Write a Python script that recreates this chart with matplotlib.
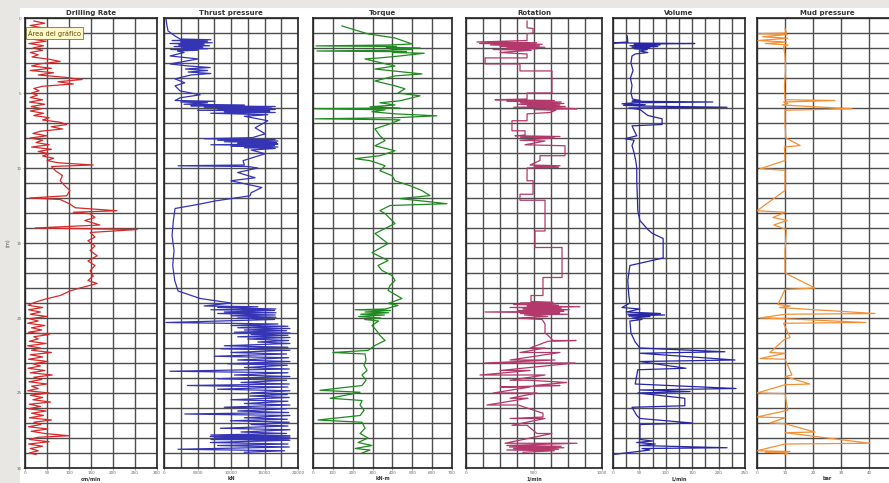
import matplotlib
matplotlib.use('Agg')
import matplotlib.pyplot as plt
from matplotlib.patches import Rectangle
from matplotlib.ticker import MultipleLocator, NullFormatter, FixedLocator

# depth in m, one pair per reading: (depth, value)
drilling_rate = [
    (0.2, 20), (0.35, 45), (0.5, 12), (0.65, 38), (0.8, 15), (0.95, 50), (1.1, 10), (1.25, 55),
    (1.4, 14), (1.55, 48), (1.7, 9), (1.85, 42), (2.0, 18), (2.15, 40), (2.3, 12), (2.45, 30),
    (2.6, 16), (2.75, 55), (2.9, 80), (3.05, 35), (3.2, 15), (3.35, 60), (3.5, 12), (3.65, 65),
    (3.8, 30), (3.95, 90), (4.1, 130), (4.25, 75), (4.4, 110), (4.55, 40), (4.7, 20), (4.85, 32),
    (5.0, 15), (5.15, 28), (5.3, 12), (5.45, 40), (5.6, 10), (5.75, 45), (5.9, 14), (6.05, 38),
    (6.2, 12), (6.35, 42), (6.5, 20), (6.65, 55), (6.8, 40), (6.95, 80), (7.1, 95), (7.25, 60),
    (7.4, 85), (7.55, 35), (7.7, 18), (7.85, 50), (8.0, 12), (8.15, 40), (8.3, 25), (8.45, 55),
    (8.6, 15), (8.75, 60), (8.9, 30), (9.05, 55), (9.2, 40), (9.35, 65), (9.5, 50), (9.65, 75),
    (9.8, 155), (9.9, 60), (10.2, 70), (10.5, 85), (10.85, 80), (11.2, 91), (11.5, 102),
    (11.85, 95), (12.0, 11), (12.1, 80), (12.4, 102), (12.65, 114), (12.85, 209), (12.95, 110),
    (13.05, 148), (13.3, 159), (13.5, 136), (13.8, 170), (14.0, 23), (14.1, 255), (14.3, 148),
    (14.6, 159), (14.85, 143), (15.2, 159), (15.5, 148), (15.85, 164), (16.2, 143), (16.5, 159),
    (16.85, 148), (17.2, 155), (17.5, 143), (17.7, 164), (18.0, 125), (18.2, 102), (18.5, 80),
    (18.75, 45), (18.95, 23), (19.15, 7),
    (19.3, 40), (19.45, 8), (19.6, 35), (19.75, 12), (19.9, 50), (20.05, 10), (20.2, 30),
    (20.35, 6), (20.5, 45), (20.65, 15), (20.8, 38), (20.95, 8), (21.1, 55), (21.25, 20),
    (21.4, 30), (21.55, 10), (21.7, 48), (21.85, 6), (22.0, 35), (22.15, 15), (22.3, 60),
    (22.45, 12), (22.6, 40), (22.75, 8), (22.9, 52), (23.05, 18), (23.2, 35), (23.35, 7),
    (23.5, 45), (23.65, 12), (23.8, 62), (23.95, 20), (24.1, 38), (24.25, 9), (24.4, 50),
    (24.55, 15), (24.7, 30), (24.85, 6), (25.0, 55), (25.15, 12), (25.3, 40), (25.45, 18),
    (25.6, 58), (25.75, 10), (25.9, 35), (26.05, 8), (26.2, 48), (26.35, 15), (26.5, 42),
    (26.65, 10), (26.8, 60), (26.95, 20), (27.1, 36), (27.25, 8), (27.4, 52), (27.55, 14),
    (27.7, 45), (27.85, 100), (27.95, 30), (28.1, 10), (28.25, 55), (28.4, 8), (28.55, 40),
    (28.7, 12), (28.85, 30), (29.0, 10), (29.1, 25),
]

thrust_pressure = [
    (0.07, 300), (0.53, 450), (0.86, 600), (1.2, 1650), (1.4, 2400),
    (1.45, 7000), (1.5, 1200), (1.55, 6500), (1.6, 2500), (1.65, 7200), (1.7, 900), (1.75, 6000),
    (1.8, 2200), (1.85, 6800), (1.9, 1500), (1.95, 5800), (2.0, 2800), (2.05, 6500), (2.1, 1000),
    (2.15, 5000), (2.2, 2000), (2.3, 3000), (2.53, 900), (2.73, 5100), (3.06, 900),
    (3.2, 3600), (3.3, 6900), (3.4, 3200), (3.5, 6500), (3.6, 3600), (3.7, 7000), (3.8, 4000),
    (4.06, 1650), (4.32, 3100), (4.52, 1650), (4.86, 2400), (5.12, 5400), (5.32, 2400),
    (5.5, 1650), (5.55, 7600), (5.6, 2500), (5.65, 6500),
    (5.75, 3000), (5.8, 12000), (5.85, 4000), (5.9, 16600), (5.95, 6000), (6.0, 16000),
    (6.05, 8000), (6.1, 16600), (6.15, 5000), (6.2, 15800), (6.25, 9000), (6.3, 16600),
    (6.35, 7000), (6.45, 15500), (6.55, 12000), (6.85, 15500), (7.32, 13600), (7.72, 15100),
    (7.98, 13150),
    (8.05, 6000), (8.1, 16600), (8.15, 8000), (8.2, 17000), (8.25, 9000), (8.3, 16800),
    (8.35, 11000), (8.4, 17000), (8.45, 7000), (8.5, 16500), (8.55, 10000), (8.6, 17000),
    (8.65, 12000), (8.7, 16600), (8.8, 13000), (9.05, 15100), (9.51, 11800), (9.8, 12000),
    (9.85, 2100), (9.9, 12500), (10.0, 14000), (10.3, 11000), (10.65, 13600), (10.85, 10000),
    (11.3, 14600), (11.65, 13000), (11.85, 12850), (12.2, 7600), (12.4, 5400), (12.7, 1650),
    (13.5, 1400), (14.5, 1200), (15.5, 1500), (16.5, 1300), (17.5, 1600), (18.2, 2100),
    (18.7, 5400), (19.0, 10000),
    (19.2, 6000), (19.25, 14000), (19.3, 8000), (19.4, 16700), (19.45, 7000), (19.5, 16500),
    (19.6, 9000), (19.65, 16700), (19.7, 8000), (19.8, 16600), (19.85, 10000), (19.95, 16700),
    (20.0, 11000), (20.1, 16500), (20.3, 300),
    (20.4, 17000), (20.5, 10000), (20.55, 18500), (20.65, 11000), (20.7, 18800), (20.8, 12000),
    (20.85, 18300), (20.95, 10500), (21.0, 18800), (21.1, 13000), (21.15, 18500), (21.25, 11000),
    (21.3, 18800), (21.4, 12500), (21.5, 18600), (21.6, 14000), (21.7, 18800),
    (21.85, 9000), (21.95, 18500), (22.05, 8500), (22.15, 18800), (22.3, 10000), (22.4, 18300),
    (22.55, 7500), (22.65, 18600), (22.8, 11000), (22.9, 18800), (23.05, 9500), (23.15, 18400),
    (23.3, 12000), (23.4, 18700), (23.55, 900), (23.65, 18500), (23.8, 10500), (23.9, 18800),
    (24.05, 8000), (24.15, 18300), (24.3, 11500), (24.4, 18700), (24.5, 3500), (24.6, 18500),
    (24.75, 8000), (24.85, 18800), (25.0, 13000), (25.1, 18400), (25.2, 12800), (25.3, 18700),
    (25.45, 10000), (25.55, 18500), (25.7, 12000), (25.8, 18800), (25.95, 9000), (26.05, 18300),
    (26.2, 11000), (26.3, 18600), (26.4, 3100), (26.5, 18800), (26.65, 12000), (26.75, 18400),
    (26.85, 9900), (26.95, 18700), (27.1, 13000), (27.2, 18500), (27.35, 8400), (27.45, 18800),
    (27.6, 11500), (27.7, 18300), (27.8, 7000), (27.85, 18800), (27.9, 6900), (27.95, 18800),
    (28.0, 7500), (28.05, 18600), (28.1, 7000), (28.15, 18800), (28.3, 6900), (28.4, 18500),
    (28.5, 8000), (28.6, 18700), (28.75, 2100), (28.85, 18000), (28.95, 12000),
]

torque = [
    (0.53, 146), (1.06, 277), (1.33, 413), (1.73, 498), (1.8, 385), (1.86, 15), (1.9, 420),
    (1.95, 370), (2.0, 540), (2.05, 390), (2.1, 500), (2.15, 380), (2.2, 20), (2.25, 470),
    (2.3, 400), (2.35, 560), (2.53, 438), (2.66, 337), (2.73, 262), (3.0, 347), (3.2, 413),
    (3.4, 312), (3.73, 549), (3.86, 413), (4.2, 312), (4.52, 413), (4.72, 463), (5.0, 428),
    (5.19, 539), (5.52, 438), (5.65, 337), (5.8, 413), (5.92, 287), (6.0, 438), (6.05, 10),
    (6.12, 363), (6.25, 297), (6.39, 413), (6.52, 624), (6.65, 413), (6.72, 10), (6.79, 438),
    (7.05, 388), (7.39, 312), (7.85, 337), (8.18, 363), (8.52, 312), (8.85, 413), (9.18, 337),
    (9.38, 212), (9.51, 287), (9.85, 363), (10.18, 337), (10.51, 398), (10.85, 413),
    (11.18, 488), (11.51, 549), (11.84, 589), (12.04, 438), (12.38, 675), (12.5, 388),
    (12.84, 337), (13.04, 363), (13.7, 413), (14.37, 312), (15.04, 378), (15.64, 297),
    (16.17, 378), (16.5, 327), (16.83, 347), (17.17, 398), (17.5, 413), (17.83, 388),
    (18.16, 378), (18.7, 448), (19.03, 378), (19.16, 428), (19.4, 365), (19.45, 212),
    (19.5, 390), (19.6, 262), (19.65, 380), (19.75, 240), (19.8, 360), (19.9, 230), (20.0, 340),
    (20.1, 260), (20.2, 330), (20.5, 297), (20.8, 318), (21.16, 337), (21.5, 363), (21.83, 312),
    (22.16, 277), (22.3, 100), (22.4, 262), (22.8, 267), (23.15, 257), (23.5, 272), (23.8, 247),
    (24.15, 267), (24.5, 247), (24.82, 35), (24.95, 237), (25.35, 86), (25.5, 247), (25.8, 237),
    (26.15, 257), (26.5, 237), (26.8, 25), (26.95, 247), (27.35, 262), (27.7, 237), (28.0, 277),
    (28.3, 227), (28.5, 297), (28.7, 212), (28.8, 287), (29.0, 247),
]

rotation = [
    (0.2, 449), (0.65, 449), (0.7, 493), (1.0, 493), (1.05, 449), (1.5, 449),
    (1.6, 81), (1.65, 520), (1.7, 100), (1.75, 560), (1.8, 180), (1.85, 540), (1.9, 250),
    (1.95, 580), (2.0, 300), (2.05, 520), (2.1, 200), (2.15, 480), (2.3, 250), (2.4, 449),
    (2.66, 449), (2.66, 140), (3.06, 140), (3.06, 397), (3.53, 397), (3.53, 632), (5.0, 632),
    (5.0, 449), (5.4, 449),
    (5.45, 213), (5.5, 650), (5.55, 300), (5.6, 700), (5.65, 400), (5.7, 720), (5.75, 380),
    (5.8, 690), (5.85, 450), (5.9, 730), (5.95, 350), (6.0, 700), (6.05, 816), (6.1, 500),
    (6.15, 660), (6.3, 618), (6.39, 449), (6.85, 449), (6.85, 338), (7.52, 338), (7.52, 434),
    (7.8, 434), (7.85, 360), (7.9, 691), (7.95, 400), (8.0, 650), (8.15, 397), (8.2, 581),
    (8.45, 434), (8.52, 728), (9.18, 728), (9.18, 544), (9.5, 544), (9.8, 471), (9.85, 691),
    (9.9, 500), (9.95, 680), (10.0, 449), (10.85, 449), (10.85, 493), (11.75, 493), (11.75, 397),
    (12.15, 397), (12.15, 581), (14.2, 581), (14.2, 507), (15.3, 507), (15.3, 706), (17.3, 706),
    (17.3, 566), (18.5, 566), (18.5, 478), (18.9, 478),
    (18.95, 640), (19.0, 400), (19.05, 660), (19.1, 350), (19.15, 680), (19.2, 450), (19.25, 838),
    (19.3, 324), (19.35, 700), (19.4, 420), (19.45, 760), (19.5, 380), (19.55, 720), (19.6, 140),
    (19.65, 690), (19.7, 400), (19.75, 750), (19.8, 430), (19.9, 600), (20.0, 380), (20.1, 560),
    (20.4, 581), (21.0, 581), (21.16, 603), (21.5, 640), (21.5, 809), (21.55, 603),
    (22.0, 471), (22.0, 581), (22.3, 397), (22.3, 691), (22.8, 324), (22.8, 654), (23.0, 140),
    (23.0, 801), (23.5, 250), (23.5, 471), (23.8, 103), (23.8, 581), (24.15, 324), (24.15, 471),
    (24.3, 740), (24.5, 500), (24.5, 691), (24.6, 250), (24.6, 471), (25.0, 199), (25.0, 522),
    (25.35, 324), (25.35, 456), (25.8, 154), (25.8, 382), (26.35, 566), (26.6, 566),
    (26.7, 324), (26.7, 581), (27.15, 338), (27.15, 449), (27.7, 522), (27.7, 632),
    (28.35, 287), (28.35, 816), (28.5, 300), (28.55, 700), (28.6, 320), (28.65, 720),
    (28.7, 350), (28.75, 680), (28.8, 300), (28.85, 650), (28.95, 420),
]

volume = [
    (1.2, 27), (1.6, 28), (1.66, 0), (1.7, 155), (1.75, 40), (1.8, 89), (1.85, 32), (1.9, 85),
    (1.95, 36), (2.0, 70), (2.05, 40), (2.1, 65), (2.2, 51), (2.3, 66), (2.4, 42), (2.53, 36),
    (3.0, 34), (3.5, 38), (4.0, 33), (4.5, 36), (5.0, 34), (5.4, 37), (5.5, 51), (5.55, 36),
    (5.6, 189), (5.65, 40), (5.72, 17), (5.78, 61), (5.82, 20), (5.87, 55), (5.95, 216),
    (6.0, 30), (6.1, 51), (6.5, 66), (6.72, 93), (7.1, 93), (7.19, 36), (7.5, 40), (7.85, 45),
    (8.05, 23), (8.15, 40), (8.5, 36), (9.0, 40), (9.5, 43), (10.0, 45), (10.85, 45),
    (11.8, 46), (12.85, 47), (13.5, 51), (14.1, 66), (14.35, 74), (14.7, 95), (16.0, 95),
    (16.5, 32), (17.5, 28), (18.5, 30), (19.0, 32), (19.3, 17), (19.4, 51), (19.6, 25),
    (19.7, 90), (19.75, 28), (19.8, 98), (19.85, 30), (19.9, 70), (20.0, 36), (20.1, 55),
    (20.2, 32), (21.0, 34), (21.6, 42), (22.0, 51), (22.25, 212), (22.35, 51), (22.8, 231),
    (22.9, 51), (23.35, 138), (23.45, 47), (24.4, 42), (24.7, 233), (24.8, 51), (24.9, 146),
    (25.0, 47), (25.35, 136), (25.85, 136), (25.95, 36), (26.5, 45), (26.7, 51), (27.0, 150),
    (27.1, 51), (28.1, 51), (28.2, 75), (28.3, 45), (28.4, 80), (28.5, 50), (28.65, 216),
    (28.7, 55), (28.8, 70), (29.1, 0),
]

mud_pressure = [
    (0.7, 10), (1.0, 10.5), (1.05, 0.5), (1.1, 10.8), (1.25, 2), (1.35, 11), (1.5, 0.3),
    (1.6, 10.5), (1.7, 3), (1.8, 11.1), (1.9, 9.5), (2.5, 10), (3.5, 10.2), (4.5, 9.8),
    (5.45, 10), (5.5, 27.8), (5.6, 9.5), (5.7, 11), (5.8, 9), (6.05, 33.9), (6.15, 10),
    (7.0, 10), (8.0, 10.3), (8.5, 15.4), (8.6, 9.8), (9.5, 10), (10.05, 1.1), (10.15, 10),
    (11.5, 10), (12.85, 0), (12.95, 10), (13.3, 5.7), (13.5, 10.7), (13.8, 6), (14.1, 10.5),
    (15.5, 10), (17.0, 10), (18.0, 20.7), (18.1, 10), (19.1, 7.5), (19.2, 11.8), (19.3, 8),
    (19.7, 42.1), (19.75, 10), (20.0, 1.1), (20.05, 10), (20.3, 38.9), (20.35, 9.5),
    (21.3, 11.8), (21.4, 10), (22.3, 4.6), (22.35, 10), (22.7, 1.1), (22.75, 10), (23.8, 12.5),
    (23.9, 10), (24.4, 18.9), (24.45, 10), (25.0, 0), (25.05, 10), (26.15, 11), (26.6, 0),
    (26.65, 10), (27.0, 4.6), (27.05, 10), (27.6, 20.7), (27.65, 10), (28.35, 40.3), (28.4, 10),
    (28.85, 0), (28.9, 11.8), (28.95, 3), (29.0, 11), (29.1, 10),
]

titles = ['Drilling Rate', 'Thrust pressure', 'Torque', 'Rotation', 'Volume', 'Mud pressure']
units = ['cm/min', 'kN', 'kN·m', '1/min', 'L/min', 'bar']
x_max = [300, 20000, 700, 1000, 250, 50]
label_step = [50, 5000, 100, 500, 50, 10]
grid_step = [50, 2500, 100, 125, 25, 10]
colors = ['#d42a2a', '#3434b4', '#1f8a1f', '#b3386b', '#2626a6', '#f39035']
series = [drilling_rate, thrust_pressure, torque, rotation, volume, mud_pressure]

# panel left edge and width in pixels of an 889x483 canvas
panel_left = [25, 164, 313, 466, 613, 757]
panel_width = [132, 134, 139, 136, 132, 140]
top_px, bottom_px = 18, 468
W, H = 889, 483

fig = plt.figure(figsize=(W / 100, H / 100), dpi=100)
fig.patch.set_facecolor('#e9e7e4')
fig.patches.append(Rectangle((20 / W, 0), 1, 1 - 8 / H, transform=fig.transFigure,
                             facecolor='white', edgecolor='none', zorder=-10))

grid_kw = dict(color='#4d4d4d', linewidth=1.0)

for i in range(6):
    ax = fig.add_axes([panel_left[i] / W, 1 - bottom_px / H,
                       panel_width[i] / W, (bottom_px - top_px) / H])
    ax.set_zorder(2)
    depth = [p[0] for p in series[i]]
    value = [p[1] for p in series[i]]
    ax.plot(value, depth, color=colors[i], linewidth=0.9, zorder=3)

    ax.set_xlim(0, x_max[i])
    ax.set_ylim(30, 0)
    if i == 5:
        # the right edge of the last track runs off the canvas, so its last label is left out
        ax.xaxis.set_major_locator(FixedLocator([0, 10, 20, 30, 40]))
    else:
        ax.xaxis.set_major_locator(MultipleLocator(label_step[i]))
    ax.xaxis.set_minor_locator(MultipleLocator(grid_step[i]))
    ax.yaxis.set_major_locator(MultipleLocator(5))
    ax.yaxis.set_minor_locator(MultipleLocator(1))
    ax.grid(True, which='both', **grid_kw)
    ax.set_axisbelow(True)
    for s in ax.spines.values():
        s.set_color('#222222')
        s.set_linewidth(1.2)

    ax.tick_params(which='both', length=1.5, width=0.5, color='#777777',
                   labelsize=3.0, labelcolor='#666666', pad=1)
    ax.tick_params(which='minor', length=0)
    if i > 0:
        ax.yaxis.set_major_formatter(NullFormatter())
        ax.tick_params(axis='y', length=0)
    else:
        ax.set_ylabel('(m)', fontsize=3.5, color='#555555', labelpad=4)

    ax.set_title(titles[i], fontsize=5, fontweight='bold', color='#333333', pad=2)
    ax.set_xlabel(units[i], fontsize=3.6, fontweight='bold', color='#333333', labelpad=0.5)

    if i == 0:
        ax.text(0.02, 0.975, 'Área del gráfico', transform=ax.transAxes, fontsize=4.8,
                color='#5a4a00', va='top', ha='left', zorder=5,
                bbox=dict(boxstyle='square,pad=0.3', facecolor='#fff8c8',
                          edgecolor='#807040', linewidth=0.6))

fig.savefig('out.png', dpi=100, facecolor=fig.get_facecolor())
